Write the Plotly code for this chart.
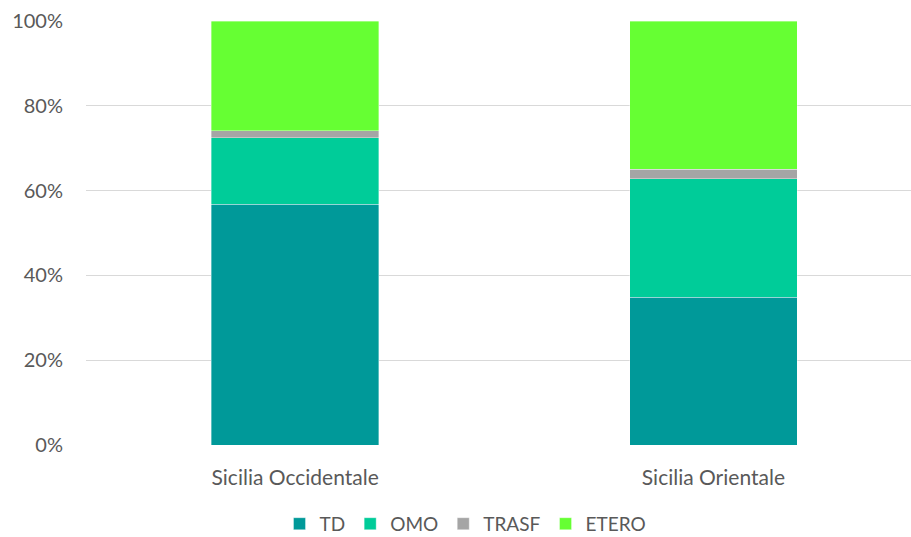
import plotly.graph_objects as go

# Share of each type per area (percent of total)
categories = ["Sicilia Occidentale", "Sicilia Orientale"]
series_names = ["TD", "OMO", "TRASF", "ETERO"]
td = [56.8, 34.8]
omo = [15.7, 28.0]
trasf = [1.6, 2.2]
etero = [25.9, 35.0]
y_ticks = [0, 20, 40, 60, 80, 100]
y_tick_labels = ["0%", "20%", "40%", "60%", "80%", "100%"]

colors = ["#009999", "#00CC99", "#A5A5A5", "#66FF33"]
values = [td, omo, trasf, etero]

FONT = "Lato"
TXT = "#595959"
SIZE = 21

fig = go.Figure()
for name, vals, col in zip(series_names, values, colors):
    fig.add_trace(go.Bar(
        x=categories, y=vals, name=name, width=0.4,
        marker=dict(color=col, line=dict(color="rgba(255,255,255,0.6)", width=0.6)),
    ))

fig.update_layout(
    barmode="stack",
    width=911, height=537,
    margin=dict(l=86, r=0, t=21, b=92, autoexpand=False),
    paper_bgcolor="white", plot_bgcolor="white",
    font=dict(family=FONT, size=SIZE, color=TXT),
    showlegend=True,
    legend=dict(
        orientation="h", x=0.46, xanchor="center", y=-0.186, yanchor="middle",
        font=dict(family=FONT, size=19, color=TXT),
        traceorder="normal", itemwidth=30,
    ),
    xaxis=dict(
        type="category", range=[-0.5, 1.4725],
        showgrid=False, showline=False, zeroline=False,
        ticks="", ticklabelstandoff=18,
        tickfont=dict(family=FONT, size=SIZE, color=TXT),
    ),
    yaxis=dict(
        range=[0, 100], tickvals=y_ticks, ticktext=y_tick_labels,
        showgrid=True, gridcolor="#D9D9D9", gridwidth=1,
        zeroline=False, showline=False, ticks="",
        ticklabelstandoff=22,
        tickfont=dict(family=FONT, size=SIZE - 1, color=TXT),
    ),
)

fig.write_html("out.html")
